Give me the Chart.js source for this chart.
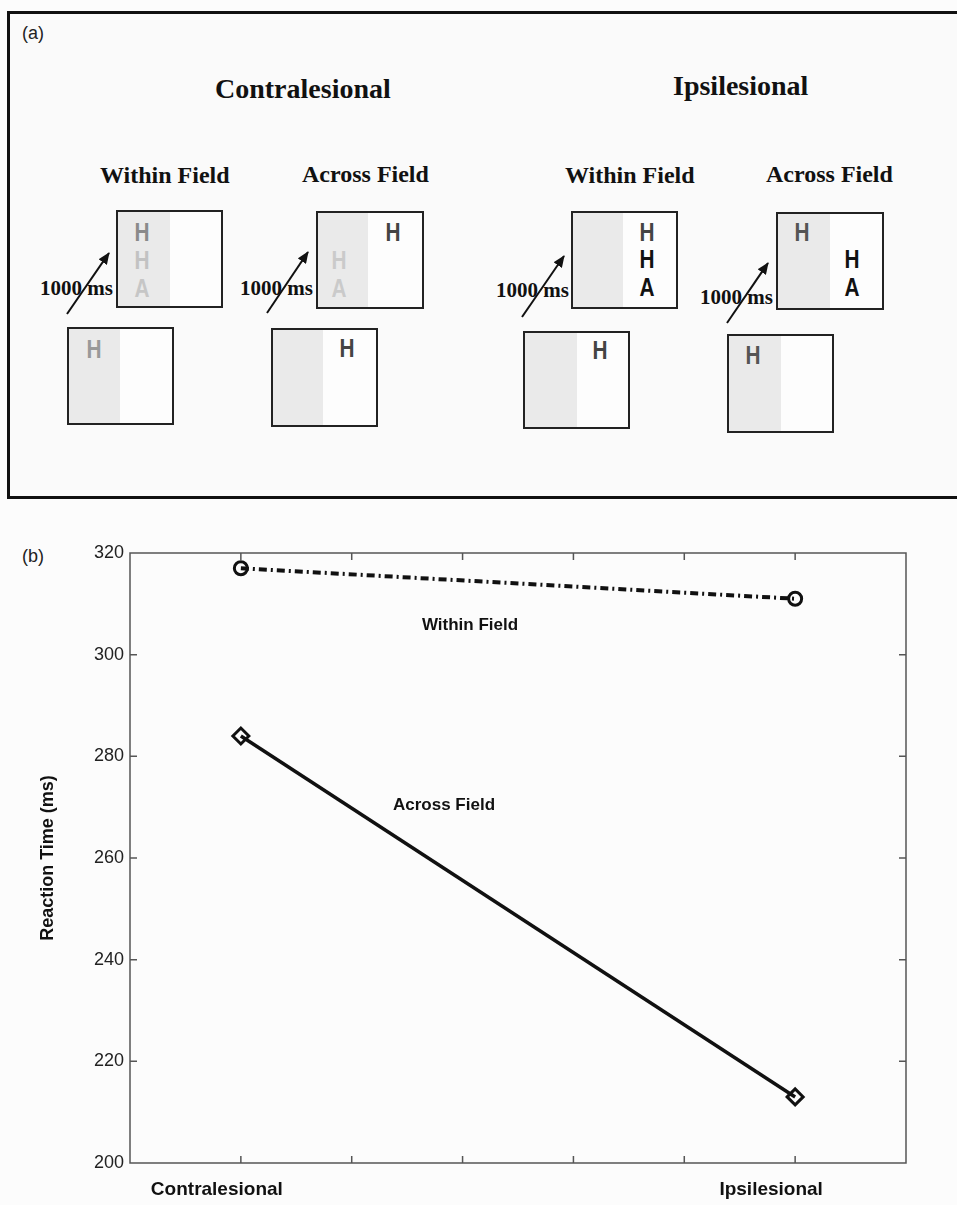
<!DOCTYPE html>
<html>
<head>
<meta charset="utf-8">
<script src="https://cdn.jsdelivr.net/npm/chart.js@4/dist/chart.umd.min.js"></script>
<style>
  html, body { margin: 0; padding: 0; background: #fcfcfc; }
  body { width: 957px; height: 1205px; position: relative; overflow: hidden; }
  #panelA { position: absolute; left: 0; top: 0; }
  #panelB { position: absolute; left: 0; top: 500px; }
  #labelB { position: absolute; left: 22px; top: 546px; font: 18px "Liberation Sans", Arial, sans-serif; color: #222; }
</style>
</head>
<body>

<!-- Panel (a): task schematic -->
<svg id="panelA" width="957" height="500" xmlns="http://www.w3.org/2000/svg">
  <defs>
    <marker id="head" markerUnits="userSpaceOnUse" markerWidth="12" markerHeight="10" refX="11" refY="5" orient="auto">
      <path d="M0,0 L12,5 L0,10 Z" fill="#111"/>
    </marker>
  </defs>
  <rect x="8.5" y="12.5" width="960" height="485" fill="#fafafa" stroke="#111" stroke-width="3"/>
  <text x="22" y="39" font-family="Liberation Sans, Arial, sans-serif" font-size="18" fill="#222">(a)</text>

  <g font-family="Liberation Serif, Times New Roman, serif" font-weight="bold" fill="#111">
    <text x="215" y="98" font-size="28">Contralesional</text>
    <text x="673" y="95" font-size="28">Ipsilesional</text>
    <text x="100" y="183" font-size="24">Within Field</text>
    <text x="302" y="182" font-size="24">Across Field</text>
    <text x="565" y="183" font-size="24">Within Field</text>
    <text x="766" y="182" font-size="24">Across Field</text>
    <text x="40" y="295" font-size="21">1000 ms</text>
    <text x="240" y="295" font-size="21">1000 ms</text>
    <text x="496" y="297" font-size="21">1000 ms</text>
    <text x="700" y="304" font-size="21">1000 ms</text>
  </g>

  <g stroke="#111" stroke-width="2" marker-end="url(#head)">
    <line x1="67" y1="314" x2="109" y2="253"/>
    <line x1="267" y1="313" x2="308" y2="252"/>
    <line x1="522" y1="317" x2="564" y2="256"/>
    <line x1="727" y1="323" x2="768" y2="263"/>
  </g>

  <g id="screens"></g>
</svg>

<div id="labelB">(b)</div>
<canvas id="panelB" width="957" height="705"></canvas>

<script>
// ---- Reaction time data (ms) ----
const tickLabels = ['', 'Contralesional', '', '', '', '', 'Ipsilesional', ''];
const conditions = ['Contralesional', 'Ipsilesional'];
const withinField = [317, 311];
const acrossField = [284, 213];
const yTicks = [200, 220, 240, 260, 280, 300, 320];

// ---- Panel (a) display screens: frame, shaded left hemifield, letters ----
const screens = [
  { x: 117, y: 211, w: 105, h: 96, g: 53, letters: [
    { t: 'H', x: 142, y: 232, c: '#8a8a8a' }, { t: 'H', x: 142, y: 260, c: '#c2c2c2' }, { t: 'A', x: 142, y: 288, c: '#c6c6c6' } ] },
  { x: 68, y: 328, w: 105, h: 96, g: 52, letters: [ { t: 'H', x: 94, y: 349, c: '#999' } ] },
  { x: 317, y: 212, w: 106, h: 96, g: 51, letters: [
    { t: 'H', x: 393, y: 232, c: '#444' }, { t: 'H', x: 339, y: 260, c: '#cacaca' }, { t: 'A', x: 339, y: 288, c: '#cacaca' } ] },
  { x: 272, y: 329, w: 105, h: 97, g: 51, letters: [ { t: 'H', x: 347, y: 348, c: '#444' } ] },
  { x: 572, y: 212, w: 105, h: 96, g: 51, letters: [
    { t: 'H', x: 647, y: 232, c: '#444' }, { t: 'H', x: 647, y: 259, c: '#111' }, { t: 'A', x: 647, y: 287, c: '#111' } ] },
  { x: 524, y: 332, w: 105, h: 96, g: 53, letters: [ { t: 'H', x: 600, y: 350, c: '#444' } ] },
  { x: 777, y: 213, w: 106, h: 96, g: 53, letters: [
    { t: 'H', x: 802, y: 232, c: '#555' }, { t: 'H', x: 852, y: 259, c: '#111' }, { t: 'A', x: 852, y: 287, c: '#111' } ] },
  { x: 728, y: 335, w: 105, h: 97, g: 53, letters: [ { t: 'H', x: 753, y: 355, c: '#555' } ] }
];

const NS = 'http://www.w3.org/2000/svg';
const group = document.getElementById('screens');
function el(name, attrs, text) {
  const e = document.createElementNS(NS, name);
  for (const k in attrs) e.setAttribute(k, attrs[k]);
  if (text) e.textContent = text;
  group.appendChild(e);
  return e;
}
screens.forEach(s => {
  el('rect', { x: s.x, y: s.y, width: s.w, height: s.h, fill: '#fdfdfd' });
  el('rect', { x: s.x, y: s.y, width: s.g, height: s.h, fill: '#eaeaea' });
  el('rect', { x: s.x, y: s.y, width: s.w, height: s.h, fill: 'none', stroke: '#222', 'stroke-width': 2 });
  s.letters.forEach(l => {
    el('text', {
      transform: `translate(${l.x},${l.y + 9.3}) scale(0.8,1)`,
      'text-anchor': 'middle', 'font-family': 'Liberation Sans, Arial, sans-serif',
      'font-weight': 'bold', 'font-size': 26, fill: l.c
    }, l.t);
  });
});

// ---- Panel (b): MATLAB-style boxed axes with inward ticks and inline labels ----
const boxAxes = {
  id: 'boxAxes',
  afterDatasetsDraw(chart) {
    const { ctx, chartArea: a, scales: { x, y } } = chart;
    const tick = 7;
    ctx.save();
    ctx.strokeStyle = '#555';
    ctx.lineWidth = 1.5;
    ctx.strokeRect(a.left, a.top, a.right - a.left, a.bottom - a.top);
    ctx.beginPath();
    for (let i = 1; i < tickLabels.length - 1; i++) {
      const px = x.getPixelForTick(i);
      ctx.moveTo(px, a.bottom); ctx.lineTo(px, a.bottom - tick);
      ctx.moveTo(px, a.top); ctx.lineTo(px, a.top + tick);
    }
    yTicks.slice(1, -1).forEach(v => {
      const py = y.getPixelForValue(v);
      ctx.moveTo(a.left, py); ctx.lineTo(a.left + tick, py);
      ctx.moveTo(a.right, py); ctx.lineTo(a.right - tick, py);
    });
    ctx.stroke();

    ctx.fillStyle = '#111';
    ctx.font = 'bold 17px "Liberation Sans", Arial, sans-serif';
    ctx.textAlign = 'center';
    ctx.textBaseline = 'middle';
    ctx.fillText('Within Field', 470, 125);
    ctx.fillText('Across Field', 444, 305);
    ctx.restore();
  }
};

new Chart(document.getElementById('panelB'), {
  type: 'line',
  data: {
    labels: tickLabels,
    datasets: [
      {
        label: 'Within Field',
        data: conditions.map((c, i) => ({ x: c, y: withinField[i] })),
        borderColor: '#111',
        borderWidth: 4,
        borderDash: [8, 4, 2, 4],
        pointStyle: 'circle',
        pointRadius: 6.5,
        pointBorderWidth: 3,
        pointBorderColor: '#111',
        pointBackgroundColor: 'rgba(0,0,0,0)'
      },
      {
        label: 'Across Field',
        data: conditions.map((c, i) => ({ x: c, y: acrossField[i] })),
        borderColor: '#111',
        borderWidth: 3.5,
        pointStyle: 'rectRot',
        pointRadius: 8,
        pointBorderWidth: 3,
        pointBorderColor: '#111',
        pointBackgroundColor: 'rgba(0,0,0,0)'
      }
    ]
  },
  options: {
    responsive: false,
    animation: false,
    devicePixelRatio: 1,
    layout: { padding: { top: 53, right: 51, bottom: 0, left: 0 } },
    plugins: { legend: { display: false }, tooltip: { enabled: false } },
    scales: {
      x: {
        type: 'category',
        offset: false,
        grid: { display: false, drawTicks: false },
        border: { display: false },
        afterFit: s => { s.height = 42; },
        ticks: {
          autoSkip: false,
          maxRotation: 0,
          padding: 15,
          labelOffset: -24,
          color: '#111',
          font: { family: '"Liberation Sans", Arial, sans-serif', size: 19, weight: 'bold' }
        }
      },
      y: {
        min: 200,
        max: 320,
        grid: { display: false, drawTicks: false },
        border: { display: false },
        afterFit: s => { s.width = 130; },
        afterBuildTicks: s => { s.ticks = yTicks.map(v => ({ value: v })); },
        ticks: {
          padding: 6,
          color: '#222',
          font: { family: '"Liberation Sans", Arial, sans-serif', size: 18 }
        },
        title: {
          display: true,
          text: 'Reaction Time (ms)',
          color: '#111',
          padding: { top: 37, bottom: 0 },
          font: { family: '"Liberation Sans", Arial, sans-serif', size: 18, weight: 'bold' }
        }
      }
    }
  },
  plugins: [boxAxes]
});
</script>
</body>
</html>
